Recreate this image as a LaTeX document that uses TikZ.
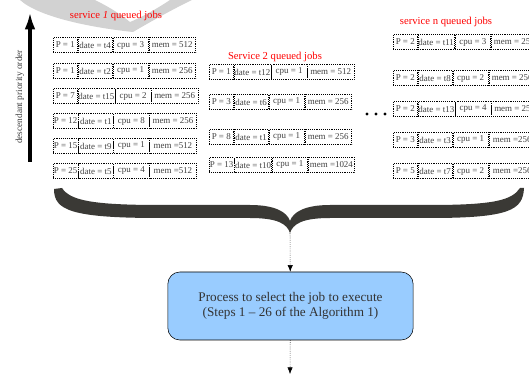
\documentclass[tikz,border=0pt]{standalone}
\usepackage{fontspec}
\setmainfont{Liberation Serif}
\usetikzlibrary{positioning,arrows.meta}
\definecolor{procblue}{RGB}{153,204,255}
\definecolor{bracegray}{RGB}{58,57,53}

\begin{document}
\begin{tikzpicture}[x=0.75pt,y=-0.75pt,
	cell/.style={draw,densely dotted,minimum height=11.25pt,inner xsep=0.5pt,inner ysep=0pt,font=\fontsize{6.7}{7}\selectfont,text=black!75},
	pcell/.style={cell,minimum width=18pt},
	datecell/.style={cell,minimum width=26pt},
	cpucell/.style={cell,minimum width=26.5pt},
	memcell/.style={cell,minimum width=35pt},
	title/.style={text=red,font=\fontsize{8}{9}\selectfont},
	flow/.style={densely dotted,-{Latex[length=5pt,width=4pt]}}]
	\useasboundingbox (0,0) rectangle (529,374);
	% grey swoosh in the corner
	\fill[gray!35] (20,0) .. controls (40,18) and (95,28) .. (133,32) .. controls (150,22) and (175,8) .. (192,0) -- (170,0) .. controls (155,10) and (140,18) .. (130,22) .. controls (118,12) and (105,5) .. (95,0) -- cycle;
	% priority arrow
	\coordinate (low) at (30,162);
	\coordinate (high) at (30,12);
	\draw[line width=3pt,-{Latex[length=13pt,width=8pt]}] (low) -- (high);
	\node[rotate=90,font=\fontsize{7}{8}\selectfont,text=black!75] (prio) at (20,97) {descendant priority order};
	% queues
	\node[title] (t1) at (116,16) {service \textit{1} queued jobs};
	\node[title] (t2) at (275,57) {Service 2 queued jobs};
	\node[title] (tn) at (446,22) {service n queued jobs};
	\foreach \y/\p/\d/\c/\m [count=\i] in {45/1/t4/3/= 512,71/1/t2/1/= 256,96/7/t15/2/= 256,121/12/t1/8/= 256,146/15/t9/1/=512,171/25/t5/4/=512}{
		\node[pcell,anchor=west] (s1p\i) at (53,\y) {P = \p};
		\node[datecell,right=0pt of s1p\i] (s1d\i) {date = \d};
		\node[cpucell,right=0pt of s1d\i] (s1c\i) {cpu = \c};
		\node[memcell,right=0pt of s1c\i] (s1m\i) {mem \m};
	}
	\foreach \y/\p/\d/\c/\m [count=\i] in {72/1/t12/1/= 512,102/3/t6/1/= 256,137/8/t1/1/= 256,165/13/t10/1/=1024}{
		\node[pcell,anchor=west] (s2p\i) at (209,\y) {P = \p};
		\node[datecell,right=0pt of s2p\i] (s2d\i) {date = \d};
		\node[cpucell,right=0pt of s2d\i] (s2c\i) {cpu = \c};
		\node[memcell,right=0pt of s2c\i] (s2m\i) {mem \m};
	}
	\foreach \y/\p/\d/\c/\m [count=\i] in {42/2/t11/3/= 256,78/2/t8/2/= 256,109/2/t13/4/= 256,140/3/t3/1/=256,171/5/t7/2/=256}{
		\node[pcell,anchor=west] (snp\i) at (393,\y) {P = \p};
		\node[datecell,right=0pt of snp\i] (snd\i) {date = \d};
		\node[cpucell,right=0pt of snd\i] (snc\i) {cpu = \c};
		\node[memcell,right=0pt of snc\i] (snm\i) {mem \m};
	}
	\foreach \x in {367,376,385}
		\fill (\x,114) circle [radius=1.3pt];
	% brace
	\fill[bracegray] (54,189) .. controls (54,210) and (70,218) .. (160,218) -- (250,218) .. controls (278,218) and (287,224) .. (290,233) .. controls (293,224) and (302,218) .. (330,218) -- (430,218) .. controls (510,218) and (523,210) .. (524,188) -- (520,188) .. controls (512,200) and (495,205) .. (430,205) -- (330,205) .. controls (305,205) and (293,212) .. (290,221) .. controls (287,212) and (275,205) .. (250,205) -- (160,205) .. controls (90,205) and (70,200) .. (62,188) -- cycle;
	\coordinate (tip) at (290,233);
	% process
	\node[draw,rounded corners=9pt,fill=procblue,minimum width=184pt,minimum height=51pt,align=center,font=\fontsize{9.9}{11.5}\selectfont,text=black!80] (proc) at (290.5,306) {Process to select the job to execute\\(Steps 1 -- 26 of the Algorithm 1)};
	\coordinate (out) at (290,374);
	\draw[flow] (tip) -- (proc);
	\draw[flow] (proc) -- (out);
\end{tikzpicture}
\end{document}
